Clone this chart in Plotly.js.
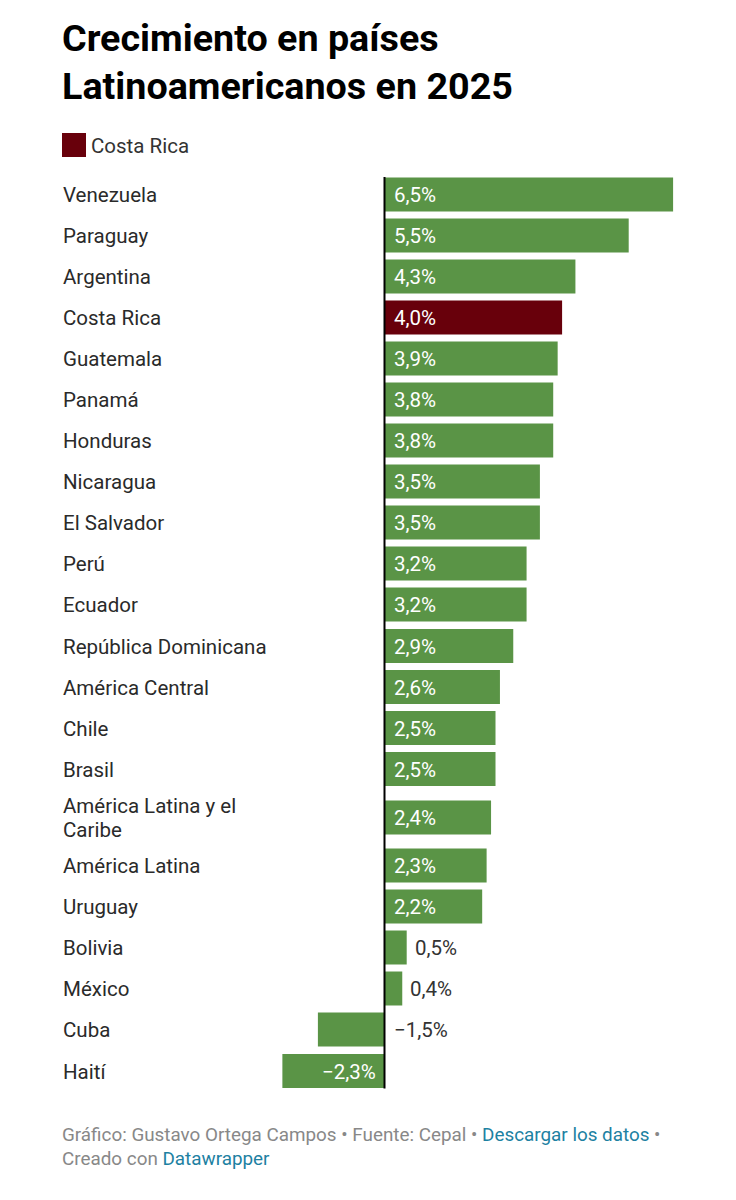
<!DOCTYPE html>
<html><head><meta charset="utf-8">
<script src="https://cdn.plot.ly/plotly-3.0.1.min.js"></script>
<style>html,body{margin:0;padding:0;background:#fff}</style></head>
<body><div id="c" style="width:736px;height:1200px"></div>
<script>
const countries=["Venezuela","Paraguay","Argentina","Costa Rica","Guatemala","Panamá","Honduras","Nicaragua","El Salvador","Perú","Ecuador","República Dominicana","América Central","Chile","Brasil","América Latina y el<br>Caribe","América Latina","Uruguay","Bolivia","México","Cuba","Haití"];
const growth=[6.5,5.5,4.3,4.0,3.9,3.8,3.8,3.5,3.5,3.2,3.2,2.9,2.6,2.5,2.5,2.4,2.3,2.2,0.5,0.4,-1.5,-2.3];
const centers=[194.5,235.5,276.5,317.5,358.5,399.5,440.5,481.5,522.5,563.5,604.5,646,687,728,769,817.5,865.5,906.5,947.5,988.5,1029.5,1071];
const green="#5a9446", red="#68000b";
const fmt=v=>(v<0?"−":"")+Math.abs(v).toFixed(1).replace(".",",")+"%";
const F="Roboto, sans-serif";
const top0=174,bot=1092,x0=384.5,ppu=44.4;
const ya={range:[bot,top0],autorange:false,visible:false,domain:[1-bot/1200,1-top0/1200]};
const xa={range:[(0-x0)/ppu,(736-x0)/ppu],autorange:false,visible:false,domain:[0,1]};
const ann=[];
const LBL=20.5;
countries.forEach((c,i)=>{
 const parts=c.split("<br>");
 parts.forEach((p,k)=>{
  const off=(k-(parts.length-1)/2)*24;
  ann.push({xref:"paper",yref:"y",x:61/736,y:centers[i]+off+0.5,text:p,showarrow:false,xanchor:"left",yanchor:"middle",align:"left",font:{family:F,size:LBL,color:"#2a2a2a"}});
 });
 const v=growth[i],inside=v>1||v<-2;
 const xp=v>=0?(inside?0.16:v+0.14):(inside?-0.14:0.16);
 ann.push({x:xp,y:centers[i]+0.5,xref:"x",yref:"y",text:fmt(v),showarrow:false,xanchor:(v<0&&inside)?"right":"left",yanchor:"middle",font:{family:F,size:LBL,color:inside?"#fff":"#333"}});
});
const pa=(x,y,text,size,color)=>ann.push({xref:"paper",yref:"paper",x:x/736,y:1-y/1200,text,showarrow:false,xanchor:"left",yanchor:"middle",font:{family:F,size,color}});
pa(60,38,"<b>Crecimiento en países</b>",37.7,"#000");
pa(60,86,"<b>Latinoamericanos en 2025</b>",37.7,"#000");
pa(89,146,"Costa Rica",20.5,"#333");
pa(60,1135,'Gráfico: Gustavo Ortega Campos • Fuente: Cepal • <span style="color:#1d81a2">Descargar los datos</span> •',18.85,"#888");
pa(60,1159,'Creado con <span style="color:#1d81a2">Datawrapper</span>',18.85,"#888");
const shapes=[
 {type:"rect",xref:"paper",yref:"paper",x0:62/736,x1:86/736,y0:1-157/1200,y1:1-133/1200,fillcolor:red,line:{width:0}},
 {type:"line",xref:"x",yref:"paper",x0:0,x1:0,y0:1-1088.5/1200,y1:1-177/1200,line:{color:"#000",width:2}}
];
Plotly.newPlot("c",[{type:"bar",orientation:"h",x:growth,y:centers,width:34,marker:{color:countries.map(c=>c==="Costa Rica"?red:green),line:{width:0}},hoverinfo:"skip"}],
{width:736,height:1200,margin:{l:0,r:0,t:0,b:0},paper_bgcolor:"#fff",plot_bgcolor:"#fff",showlegend:false,xaxis:xa,yaxis:ya,annotations:ann,shapes:shapes},{displayModeBar:false});
</script></body></html>
